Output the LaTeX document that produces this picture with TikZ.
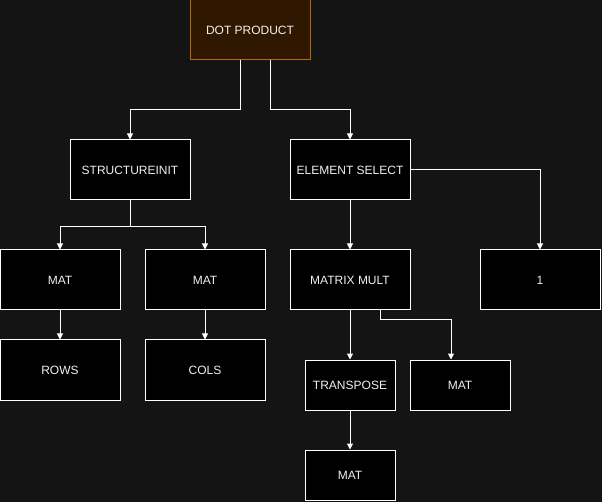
\documentclass[tikz,border=0pt]{standalone}
\usepackage{fontspec}
\setmainfont{Liberation Sans}
\usetikzlibrary{arrows.meta}
\definecolor{bg}{HTML}{141414}
\definecolor{dpfill}{HTML}{301700}
\definecolor{dpline}{HTML}{B46E00}
\definecolor{txt}{HTML}{F0F0F0}
\begin{document}
\begin{tikzpicture}[x=1pt,y=-1pt,
  box/.style={draw=white, line width=1pt, fill=black, text=txt, inner sep=0pt, font=\fontsize{12}{14}\selectfont},
  wide/.style={box, minimum width=120pt, minimum height=60pt},
  small/.style={box, minimum width=90pt, minimum height=50pt},
  conn/.style={draw=white, line width=1pt, line join=miter, -{Triangle[width=6pt,length=6pt]}}]
\fill[bg] (0,0) rectangle (602,502);
\useasboundingbox (0,0) rectangle (602,502);
\node[wide, fill=dpfill, draw=dpline] (dp) at (250,30) {DOT PRODUCT};
\node[wide] (si) at (130,170) {STRUCTUREINIT};
\node[wide] (es) at (350,170) {ELEMENT SELECT};
\node[wide] (m1) at (60,280) {MAT};
\node[wide] (m2) at (205,280) {MAT};
\node[wide] (mm) at (350,280) {MATRIX MULT};
\node[wide] (one) at (540,280) {1};
\node[wide] (rows) at (60,370) {ROWS};
\node[wide] (cols) at (205,370) {COLS};
\node[small] (tr) at (350,385) {TRANSPOSE};
\node[box, minimum width=100pt, minimum height=50pt] (m3) at (460,385) {MAT};
\node[small] (m4) at (350,475) {MAT};
\coordinate (a1) at (240,110);
\coordinate (a2) at (270,110);
\coordinate (b1) at (130,227);
\coordinate (c1) at (380,320);
\draw[conn] (dp.south -| a1) -- (a1) -| (si.north);
\draw[conn] (dp.south -| a2) -- (a2) -| (es.north);
\draw[conn] (si.south) -- (b1) -| (m1.north);
\draw[conn] (si.south) -- (b1) -| (m2.north);
\draw[conn] (es.south) -- (mm.north);
\draw[conn] (es.east) -| (one.north);
\draw[conn] (m1.south) -- (rows.north);
\draw[conn] (m2.south) -- (cols.north);
\draw[conn] (mm.south) -- (tr.north);
\draw[conn] (mm.south -| c1) -- (c1) -| (m3.north -| 451,0);
\draw[conn] (tr.south) -- (m4.north);
\end{tikzpicture}
\end{document}
